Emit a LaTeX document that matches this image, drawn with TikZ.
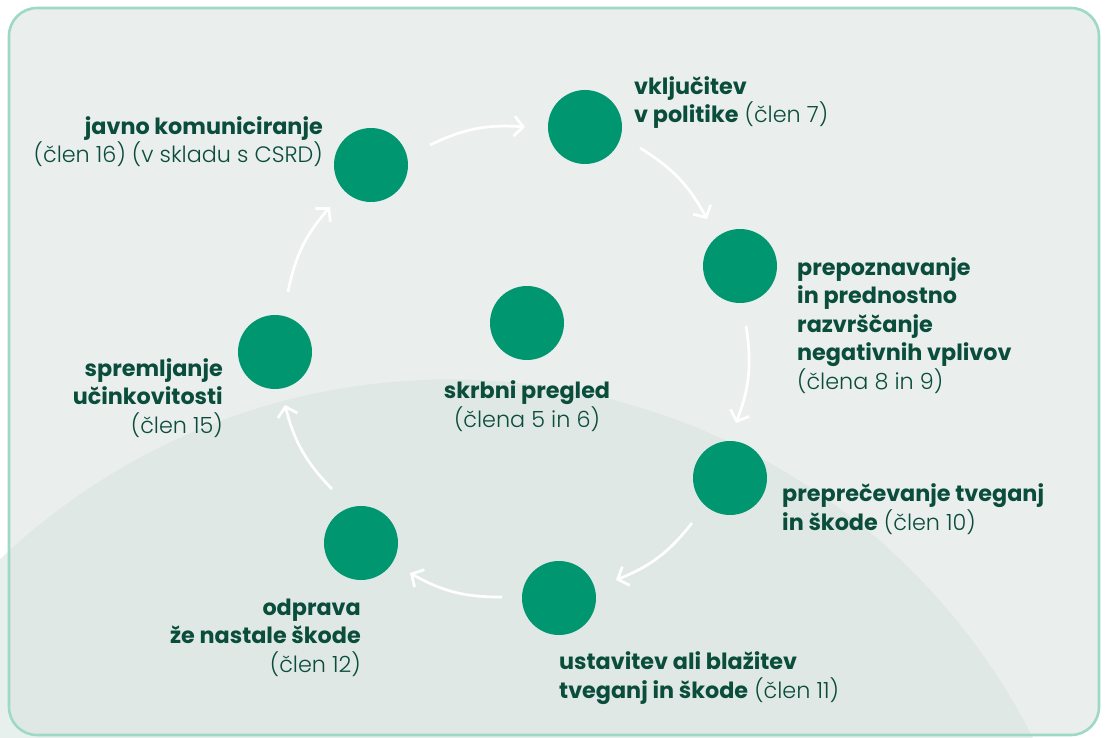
\documentclass[tikz,border=0pt]{standalone}
\usepackage{fontspec}
\setmainfont{Poppins}[UprightFont={* Light}, BoldFont={* Bold}]
\usetikzlibrary{arrows.meta}
\definecolor{bgfill}{HTML}{EAEEED}
\definecolor{bigc}{HTML}{E0E8E5}
\definecolor{bigout}{HTML}{E8F0EE}
\definecolor{border}{HTML}{9DD9C5}
\definecolor{dotgreen}{HTML}{009670}
\definecolor{txt}{HTML}{0A4D3B}
\tikzset{
  dot/.style={circle, fill=dotgreen, minimum size=74pt, inner sep=0pt},
  lbl/.style={inner sep=0pt, text=txt, font=\fontsize{22.3}{28.5}\selectfont},
  flow/.style={draw=white, line width=2.7pt, -{Straight Barb[length=9pt,width=20pt]}, bend left=15},
}
\begin{document}
\begin{tikzpicture}[x=1pt,y=-1pt]
\useasboundingbox (0,0) rectangle (1105,738);
\fill[white] (0,0) rectangle (1105,738);
\fill[bigout] (450,1032.5) circle (653);
\fill[bgfill, rounded corners=28pt] (9,8) rectangle (1099,735);
\begin{scope}
  \clip[rounded corners=28pt] (9,8) rectangle (1099,735);
  \fill[bigc] (450,1032.5) circle (653);
\end{scope}
\draw[border, line width=2.6pt, rounded corners=28pt] (9,8) rectangle (1099,735);

% circles
\node[dot] (center) at (527,323) {};
\node[dot] (vklj) at (585,127) {};
\node[dot] (javno) at (371,165) {};
\node[dot] (prep) at (740,266) {};
\node[dot] (prepr) at (730,478) {};
\node[dot] (ustav) at (559,598) {};
\node[dot] (odpr) at (361,543) {};
\node[dot] (sprem) at (275,352) {};

% labels (anchored at the baseline of their last line)
\node[lbl, align=right, anchor=base east] (tjavno) at (323,163) {\textbf{javno komuniciranje}\\(člen 16) (v skladu s CSRD)};
\node[lbl, align=left, anchor=base west] (tvklj) at (634,123) {\textbf{vključitev}\\\textbf{v politike} (člen 7)};
\node[lbl, align=left, anchor=base west] (tprep) at (797,389) {\textbf{prepoznavanje}\\\textbf{in prednostno}\\\textbf{razvrščanje}\\\textbf{negativnih vplivov}\\(člena 8 in 9)};
\node[lbl, align=left, anchor=base west] (tprepr) at (782,530) {\textbf{preprečevanje tveganj}\\\textbf{in škode} (člen 10)};
\node[lbl, align=left, anchor=base west] (tustav) at (559,698) {\textbf{ustavitev ali blažitev}\\\textbf{tveganj in škode} (člen 11)};
\node[lbl, align=right, anchor=base east] (todpr) at (361,672) {\textbf{odprava}\\\textbf{že nastale škode}\\(člen 12)};
\node[lbl, align=right, anchor=base east] (tsprem) at (223,433) {\textbf{spremljanje}\\\textbf{učinkovitosti}\\(člen 15)};
\node[lbl, align=center, anchor=base] (tcenter) at (527,427) {\textbf{skrbni pregled}\\(člena 5 in 6)};

% arrow end points
\coordinate (a1s) at (430,145); \coordinate (a1e) at (525,127);
\coordinate (a2s) at (640,148); \coordinate (a2e) at (707,219);
\coordinate (a3s) at (746,326); \coordinate (a3e) at (736,423);
\coordinate (a4s) at (692,523); \coordinate (a4e) at (616,580);
\coordinate (a5s) at (502,597); \coordinate (a5e) at (410,573);
\coordinate (a6s) at (332,489); \coordinate (a6e) at (285,405);
\coordinate (a7s) at (288,292); \coordinate (a7e) at (330,207);
\draw[flow] (a1s) to (a1e);
\draw[flow] (a2s) to (a2e);
\draw[flow] (a3s) to (a3e);
\draw[flow] (a4s) to (a4e);
\draw[flow] (a5s) to (a5e);
\draw[flow] (a6s) to (a6e);
\draw[flow] (a7s) to (a7e);
\end{tikzpicture}
\end{document}
